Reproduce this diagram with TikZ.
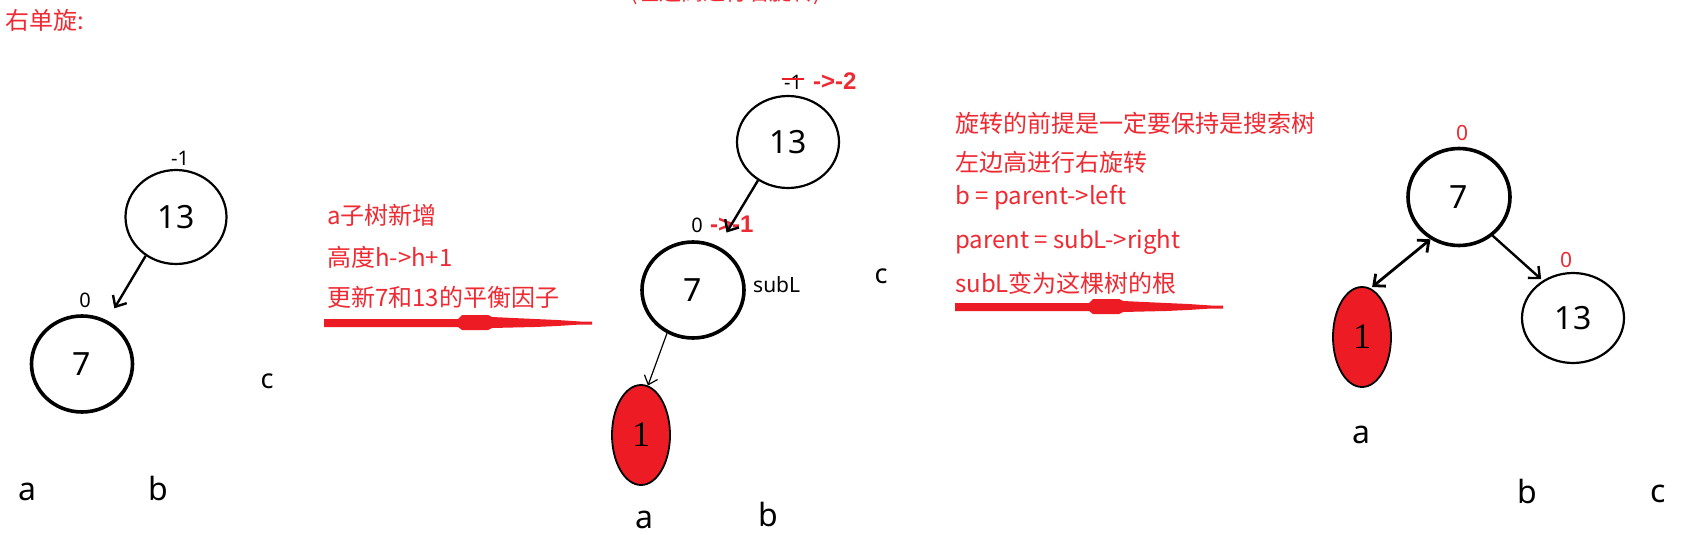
\documentclass[tikz,border=0pt]{standalone}
\usepackage{fontspec}
\setmainfont{Noto Sans}
\newfontfamily\cjk{Noto Sans CJK SC}
\newfontfamily\serifone{Liberation Serif}
\newfontfamily\boldsans{Liberation Sans}
\usetikzlibrary{shapes.geometric,arrows.meta}
\definecolor{pred}{HTML}{ED1C24}
\definecolor{tred}{HTML}{EE2A33}
\tikzset{
  circA/.style={ellipse,draw,inner sep=0pt,line width=2.2pt,font=\fontsize{32}{32}\selectfont},
  circB/.style={circA,line width=3.6pt},
  leaf/.style={ellipse,draw,fill=pred,inner sep=0pt,line width=1.8pt,minimum width=58pt,minimum height=100pt,font=\serifone\fontsize{36}{36}\selectfont},
  bal/.style={font=\fontsize{20}{20}\selectfont,inner sep=1pt},
  balred/.style={text=tred,font=\fontsize{21}{21}\selectfont,inner sep=0pt},
  delta/.style={text=tred,font=\boldsans\bfseries\fontsize{24}{24}\selectfont,anchor=west,inner sep=0pt},
  note/.style={text=tred,font=\cjk\fontsize{24}{24}\selectfont,anchor=west,inner sep=0pt},
  letter/.style={font=\fontsize{32}{32}\selectfont,anchor=base,inner sep=0pt},
  cletter/.style={font=\fontsize{27}{27}\selectfont,anchor=base,inner sep=0pt},
  edge/.style={line width=2.4pt,-{Straight Barb[length=9pt,width=16pt]}},
  dedge/.style={line width=2.8pt,{Straight Barb[length=9pt,width=16pt]}-{Straight Barb[length=9pt,width=16pt]}},
  thinedge/.style={line width=1.2pt,-{Straight Barb[length=8pt,width=14pt]}},
  redarrow/.pic={
    \fill[pred] (0,-4) -- (134,-4) -- (138,-8) -- (164,-8) -- (168,-6) -- (189,-5) -- (211,-4)
      -- (233,-3) -- (256,-1.5) -- (268,-1.5) -- (268,1.5) -- (256,1.5) -- (233,3) -- (211,4)
      -- (189,4.5) -- (168,5) -- (164,7) -- (138,7) -- (134,4) -- (0,4) -- cycle;
  },
}
\begin{document}
\begin{tikzpicture}[x=1pt,y=-1pt]
\fill[white] (0,0) rectangle (1681,535);
\useasboundingbox (0,0) rectangle (1681,535);

% titles
\node[note] (title) at (5,20) {右单旋:};
\node[note,font=\cjk\fontsize{22}{22}\selectfont] (toptext) at (630,-7) {(左边高进行右旋转)};

% ---------- tree 1 ----------
\node[circA,minimum width=101pt,minimum height=94pt] (n13a) at (176,217) {13};
\node[circB,minimum width=101pt,minimum height=96pt] (n7a) at (82,364) {7};
\node[bal] (b13a) at (180,158) {-1};
\node[bal] (b7a) at (85,300) {0};
\node[cletter] (c1) at (267,388) {c};
\node[letter] (a1) at (27,500) {a};
\node[letter] (bb1) at (158,500) {b};
\draw[edge,shorten >=14pt] (n13a.232) -- (n7a.60);

% ---------- note 1 ----------
\node[note] (t11) at (327,215) {a子树新增};
\node[note] (t12) at (327,257) {高度h->h+1};
\node[note] (t13) at (327,297) {更新7和13的平衡因子};
\pic at (324,323) {redarrow};

% ---------- tree 2 ----------
\node[circA,minimum width=102pt,minimum height=92pt] (n13b) at (788,142) {13};
\node[circB,minimum width=102pt,minimum height=96pt] (n7b) at (693,290) {7};
\node[leaf] (n1b) at (641,435) {1};
\node[bal] (b13b) at (793,82) {-1};
\draw[pred,line width=2pt] ([xshift=-1pt,yshift=3pt]b13b.west) -- ([xshift=1pt,yshift=3pt]b13b.east);
\node[delta] (d13b) at (813,81) {->-2};
\node[bal] (b7b) at (697,225) {0};
\node[delta] (d7b) at (710,224) {->-1};
\node[font=\fontsize{21}{21}\selectfont,anchor=base west,inner sep=0pt] (subl) at (753,292) {subL};
\node[cletter] (c2) at (881,283) {c};
\node[letter] (a2) at (644,528) {a};
\node[letter] (bb2) at (768,526) {b};
\draw[edge,shorten >=16pt] (n13b.232) -- (n7b.60);
\draw[thinedge] (n7b.239) -- (n1b.82);

% ---------- note 2 ----------
\node[note] (t21) at (955,123) {旋转的前提是一定要保持是搜索树};
\node[note] (t22) at (955,162) {左边高进行右旋转};
\node[note] (t23) at (955,198) {b = parent->left};
\node[note] (t24) at (955,242) {parent = subL->right};
\node[note] (t25) at (955,283) {subL变为这棵树的根};
\pic at (955,307) {redarrow};

% ---------- tree 3 ----------
\node[circB,minimum width=102pt,minimum height=97pt] (n7c) at (1459,197) {7};
\node[circA,minimum width=102pt,minimum height=90pt] (n13c) at (1573,318) {13};
\node[leaf] (n1c) at (1362,337) {1};
\node[balred] (b7c) at (1462,133) {0};
\node[balred] (b13c) at (1566,260) {0};
\node[letter] (a3) at (1361,443) {a};
\node[letter] (bb3) at (1527,503) {b};
\node[letter] (c3) at (1658,502) {c};
\draw[dedge,shorten >=2pt] (n7c.236) -- (n1c.80);
\draw[edge,shorten >=2pt] (n7c.311) -- (n13c.129);
\end{tikzpicture}
\end{document}
